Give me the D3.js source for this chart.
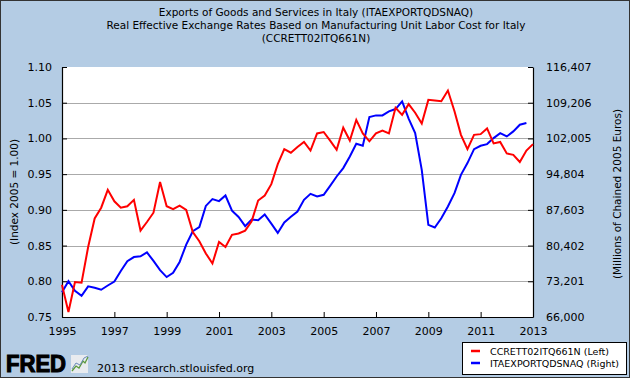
<!DOCTYPE html>
<html>
<head>
<meta charset="utf-8">
<script src="https://cdn.jsdelivr.net/npm/d3@7"></script>
<style>
	body { margin: 0; padding: 0; }
	svg { display: block; }
	text { font-family: "DejaVu Sans", Verdana, sans-serif; fill: #000; }
</style>
</head>
<body>
<div id="chart"></div>
<script>
// quarterly, starting 1995 Q1
let rateValues = [0.795, 0.757, 0.799, 0.798, 0.848, 0.888, 0.903, 0.928, 0.912, 0.903, 0.905, 0.914,
	0.871, 0.883, 0.896, 0.939, 0.905, 0.901, 0.906, 0.900, 0.869, 0.856, 0.839, 0.825,
	0.855, 0.848, 0.865, 0.867, 0.871, 0.884, 0.913, 0.920, 0.936, 0.964, 0.985, 0.980,
	0.988, 0.995, 0.983, 1.007, 1.009, 0.997, 0.984, 1.015, 0.997, 1.026, 1.007, 0.996,
	1.007, 1.011, 1.007, 1.043, 1.033, 1.048, 1.036, 1.021, 1.054, 1.053, 1.052, 1.067,
	1.038, 1.005, 0.985, 1.005, 1.006, 1.014, 0.993, 0.995, 0.979, 0.977, 0.967, 0.983, 0.992];

let exportValues = [71000, 73220, 71300, 70260, 72180, 71900, 71500, 72350, 73150, 75270, 77250, 78080,
	78250, 79030, 77300, 75450, 74050, 74900, 77100, 80600, 83300, 84150, 88400, 89770,
	89370, 90500, 87450, 86180, 84330, 85640, 85500, 86680, 84830, 82950, 85070, 86200,
	87250, 89620, 90830, 90300, 90630, 92450, 94330, 96020, 98370, 100930, 100530, 106310,
	106650, 106650, 107460, 107930, 109480, 106000, 103080, 95680, 84580, 84040, 85920, 88280,
	90970, 94670, 97030, 99850, 100530, 100860, 102070, 103080, 102410, 103420, 104770, 105100];

let leftTicks = [0.75, 0.80, 0.85, 0.90, 0.95, 1.00, 1.05, 1.10];
let rightTicks = [66000, 73201, 80402, 87603, 94804, 102005, 109206, 116407];
let yearTicks = [1995, 1997, 1999, 2001, 2003, 2005, 2007, 2009, 2011, 2013];

let titleLines = ["Exports of Goods and Services in Italy (ITAEXPORTQDSNAQ)",
	"Real Effective Exchange Rates Based on Manufacturing Unit Labor Cost for Italy",
	"(CCRETT02ITQ661N)"];
let legendNames = ["CCRETT02ITQ661N (Left)", "ITAEXPORTQDSNAQ (Right)"];

let W = 630, H = 378;
let margin = { top: 67, right: 97, bottom: 61, left: 62 };
let width = W - margin.left - margin.right,
	height = H - margin.top - margin.bottom;

let quarter = function(i) { return new Date(1995, i * 3, 1); };

let svg = d3.select('#chart').append('svg')
	.attr('width', W)
	.attr('height', H);

svg.append('rect')
	.attr('x', 0.5).attr('y', 0.5)
	.attr('width', W - 1).attr('height', H - 1)
	.attr('fill', '#b4cce4')
	.attr('stroke', '#333');

// titles
svg.selectAll('.title')
	.data(titleLines)
	.enter().append('text').classed('title', true)
	.attr('x', 316)
	.attr('y', function(d, i) { return 16 + i * 13; })
	.attr('text-anchor', 'middle')
	.style('font-size', '10.5px')
	.text(function(d) { return d; });

let g = svg.append('g')
	.attr('transform', 'translate(' + margin.left + ',' + margin.top + ')');

g.append('rect')
	.attr('width', width).attr('height', height)
	.attr('fill', '#fff');

let x = d3.scaleTime()
	.domain([new Date(1995, 0, 1), new Date(2013, 0, 1)])
	.range([0, width]);

let yL = d3.scaleLinear().domain([0.75, 1.10]).range([height, 0]);
let yR = d3.scaleLinear().domain([66000, 116407]).range([height, 0]);

// gridlines
g.selectAll('.grid')
	.data(leftTicks.slice(1, -1))
	.enter().append('line').classed('grid', true)
	.attr('x1', 0).attr('x2', width)
	.attr('y1', function(d) { return Math.round(yL(d)) + 0.5; })
	.attr('y2', function(d) { return Math.round(yL(d)) + 0.5; })
	.attr('stroke', '#aaa')
	.attr('stroke-width', 1);

// axes, ticks pointing inwards
let xAxis = d3.axisBottom(x)
	.tickValues(yearTicks.map(function(y) { return new Date(y, 0, 1); }))
	.tickFormat(d3.timeFormat('%Y'))
	.tickSizeInner(-5).tickSizeOuter(0)
	.tickPadding(10);

let leftAxis = d3.axisLeft(yL)
	.tickValues(leftTicks)
	.tickFormat(d3.format('.2f'))
	.tickSizeInner(-5).tickSizeOuter(0)
	.tickPadding(10);

let rightAxis = d3.axisRight(yR)
	.tickValues(rightTicks)
	.tickFormat(d3.format(','))
	.tickSizeInner(-5).tickSizeOuter(0)
	.tickPadding(13);

g.append('g').attr('transform', 'translate(0,' + height + ')').call(xAxis);
g.append('g').call(leftAxis);
g.append('g').attr('transform', 'translate(' + width + ',0)').call(rightAxis);

g.selectAll('.domain').attr('stroke', '#000').attr('stroke-width', 1.2);
g.selectAll('.tick line').attr('stroke', '#000');
g.selectAll('.tick text')
	.style('font-family', '"DejaVu Sans", Verdana, sans-serif')
	.style('font-size', '11px')
	.attr('fill', '#000');

// axis titles
svg.append('text')
	.attr('transform', 'translate(18,' + (margin.top + height / 2) + ') rotate(-90)')
	.attr('text-anchor', 'middle')
	.style('font-size', '10.5px')
	.text('(Index 2005 = 1.00)');

svg.append('text')
	.attr('transform', 'translate(621,' + (margin.top + height / 2 + 2) + ') rotate(-90)')
	.attr('text-anchor', 'middle')
	.style('font-size', '10.5px')
	.text('(Millions of Chained 2005 Euros)');

// lines
let rateLine = d3.line()
	.x(function(d, i) { return x(quarter(i)); })
	.y(function(d) { return yL(d); });

let exportLine = d3.line()
	.x(function(d, i) { return x(quarter(i)); })
	.y(function(d) { return yR(d); });

g.append('path')
	.datum(exportValues)
	.attr('d', exportLine)
	.attr('fill', 'none')
	.attr('stroke', '#0000ff')
	.attr('stroke-width', 2);

g.append('path')
	.datum(rateValues)
	.attr('d', rateLine)
	.attr('fill', 'none')
	.attr('stroke', '#ff0000')
	.attr('stroke-width', 2);

// legend
let legend = svg.append('g').attr('transform', 'translate(462,342)');
legend.append('rect')
	.attr('x', 0.5).attr('y', 0.5)
	.attr('width', 164).attr('height', 32)
	.attr('fill', '#fff')
	.attr('stroke', '#000');

let colors = ['#ff0000', '#0000ff'];
legend.selectAll('.leg')
	.data(legendNames)
	.enter().append('g').classed('leg', true)
	.attr('transform', function(d, i) { return 'translate(0,' + (9 + i * 12) + ')'; })
	.each(function(d, i) {
		let item = d3.select(this);
		item.append('line')
			.attr('x1', 9).attr('x2', 18)
			.attr('stroke', colors[i]).attr('stroke-width', 2.5);
		item.append('text')
			.attr('x', 28).attr('y', 3.5)
			.style('font-size', '9.5px')
			.text(d);
	});

// FRED logo
let logo = svg.append('g');
logo.append('text')
	.attr('x', 6).attr('y', 372)
	.attr('textLength', 60)
	.attr('lengthAdjust', 'spacingAndGlyphs')
	.style('font-family', '"Liberation Sans", Arial, sans-serif')
	.style('font-weight', 'bold')
	.style('font-size', '24px')
	.attr('stroke', '#000')
	.attr('stroke-width', 1.2)
	.text('FRED');

logo.append('rect')
	.attr('x', 71).attr('y', 355)
	.attr('width', 17).attr('height', 18)
	.attr('fill', '#e8ebef');
logo.append('path')
	.attr('d', 'M72,371 L76,366 L79,368 L83,361 L85,363 L88,357')
	.attr('fill', 'none').attr('stroke', '#5a9a3a').attr('stroke-width', 1.3);
logo.append('path')
	.attr('d', 'M72,369 L76,363 L80,365 L84,358 L88,356')
	.attr('fill', 'none').attr('stroke', '#6a8ab8').attr('stroke-width', 1);

svg.append('text')
	.attr('x', 97).attr('y', 372)
	.style('font-size', '11px')
	.text('2013 research.stlouisfed.org');
</script>
</body>
</html>
